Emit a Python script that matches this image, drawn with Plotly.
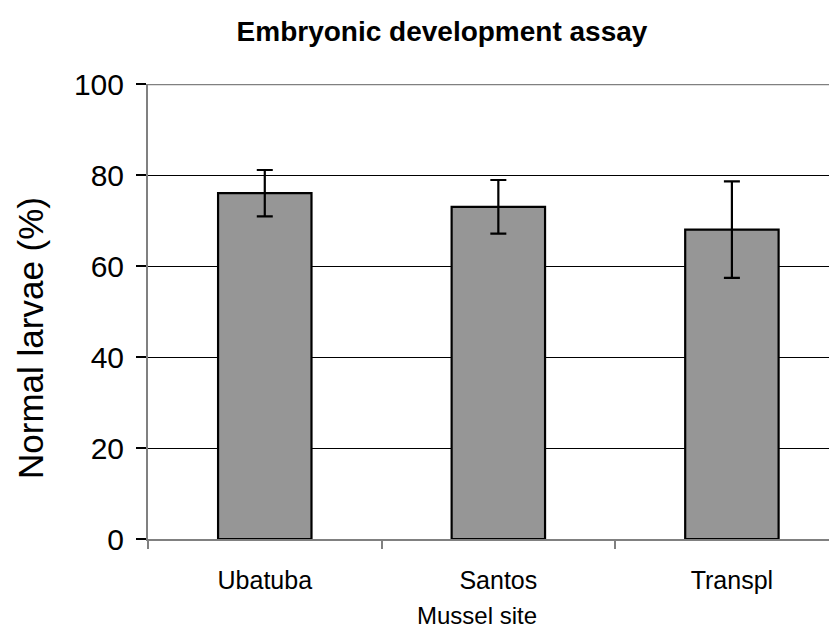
import plotly.graph_objects as go

sites = ["Ubatuba", "Santos", "Transpl"]
normal_larvae = [76.0, 73.0, 68.0]
error_sd = [5.1, 5.9, 10.6]
y_ticks = [0, 20, 40, 60, 80, 100]

FONT = "Arial, Liberation Sans, sans-serif"

# The page body has an 8px default margin, so the figure is made 8px smaller
# and all positions are measured relative to the figure's own corner.
OFF = 8
W, H = 837 - OFF, 632 - OFF
L, T = 148 - OFF, 84 - OFF
PH = 455
PW = W - L
B = H - T - PH

fig = go.Figure()
fig.add_trace(go.Bar(
    x=sites,
    y=normal_larvae,
    width=0.4,
    marker=dict(color="#969696", line=dict(color="black", width=2.2)),
    error_y=dict(type="data", array=error_sd, visible=True,
                 color="black", thickness=2.2, width=8),
    showlegend=False,
))

fig.update_layout(
    width=W, height=H,
    margin=dict(l=L, r=0, t=T, b=B, autoexpand=False),
    paper_bgcolor="white",
    plot_bgcolor="white",
    title=dict(text="<b>Embryonic development assay</b>",
               font=dict(family=FONT, size=28, color="black"),
               x=(442 - OFF) / W, xref="container", xanchor="center",
               y=1 - (31 - OFF) / H, yref="container", yanchor="middle"),
    xaxis=dict(
        type="category",
        range=[-0.5, 2.45],
        tickson="boundaries",
        ticks="outside", ticklen=8, tickcolor="#808080", tickwidth=1.5,
        showline=True, linecolor="#808080", linewidth=2,
        showgrid=False,
        tickfont=dict(family=FONT, size=25, color="black"),
        ticklabelstandoff=18,
    ),
    yaxis=dict(
        range=[0, 100],
        tickvals=y_ticks,
        ticks="outside", ticklen=10, tickcolor="black", tickwidth=1.5,
        showline=True, linecolor="#808080", linewidth=2,
        showgrid=True, gridcolor="black", gridwidth=1,
        zeroline=False,
        tickfont=dict(family=FONT, size=30, color="black"),
        ticklabelstandoff=6,
    ),
    annotations=[
        dict(text="Mussel site", showarrow=False,
             xref="paper", yref="paper",
             x=(477 - 148) / PW, y=-(615 - 539) / PH,
             xanchor="center", yanchor="middle", borderpad=0,
             font=dict(family=FONT, size=24, color="black")),
        dict(text="Normal larvae (%)", showarrow=False, textangle=-90,
             xref="paper", yref="paper",
             x=-(148 - 30) / PW, y=(539 - 338) / PH,
             xanchor="center", yanchor="middle", borderpad=0,
             font=dict(family=FONT, size=35, color="black")),
    ],
    shapes=[dict(type="line", xref="paper", yref="y",
                 x0=0, x1=1, y0=100, y1=100,
                 line=dict(color="#808080", width=2.5))],
)

fig.write_html("out.html")
